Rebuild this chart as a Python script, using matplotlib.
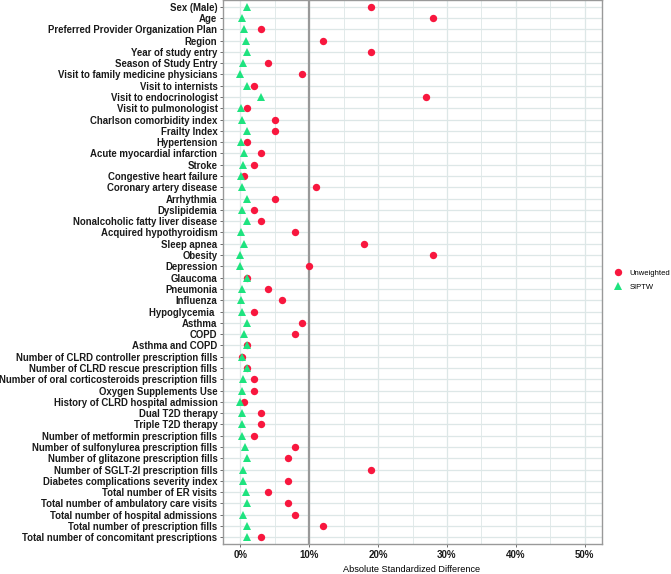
import matplotlib
matplotlib.use("Agg")
import matplotlib.pyplot as plt

# Covariables (de arriba hacia abajo)
covariables = [
    "Sex (Male)", "Age", "Preferred Provider Organization Plan", "Region",
    "Year of study entry", "Season of Study Entry",
    "Visit to family medicine physicians", "Visit to internists",
    "Visit to endocrinologist", "Visit to pulmonologist",
    "Charlson comorbidity index", "Frailty Index", "Hypertension",
    "Acute myocardial infarction", "Stroke", "Congestive heart failure",
    "Coronary artery disease", "Arrhythmia", "Dyslipidemia",
    "Nonalcoholic fatty liver disease", "Acquired hypothyroidism",
    "Sleep apnea", "Obesity", "Depression", "Glaucoma", "Pneumonia",
    "Influenza", "Hypoglycemia ", "Asthma", "COPD", "Asthma and COPD",
    "Number of CLRD controller prescription fills",
    "Number of CLRD rescue prescription fills",
    "Number of oral corticosteroids prescription fills",
    "Oxygen Supplements Use", "History of CLRD hospital admission",
    "Dual T2D therapy", "Triple T2D therapy",
    "Number of metformin prescription fills",
    "Number of sulfonylurea prescription fills",
    "Number of glitazone prescription fills",
    "Number of SGLT-2I prescription fills",
    "Diabetes complications severity index", "Total number of ER visits",
    "Total number of ambulatory care visits",
    "Total number of hospital admissions",
    "Total number of prescription fills",
    "Total number of concomitant prescriptions",
]

# Diferencia estandarizada absoluta (%)
sin_ponderar = [
    19, 28, 3, 12, 19, 4, 9, 2, 27, 1,
    5, 5, 1, 3, 2, 0.5, 11, 5, 2, 3,
    8, 18, 28, 10, 1, 4, 6, 2, 9, 8,
    1, 0.3, 1, 2, 2, 0.5, 3, 3, 2, 8,
    7, 19, 7, 4, 7, 8, 12, 3,
]
siptw = [
    1.0, 0.3, 0.6, 0.9, 1.0, 0.4, 0.0, 1.0, 3.0, 0.1,
    0.3, 1.0, 0.1, 0.6, 0.4, 0.1, 0.2, 1.0, 0.2, 1.0,
    0.1, 0.6, 0.0, 0.0, 1.0, 0.3, 0.1, 0.2, 1.0, 0.5,
    1.0, 0.2, 1.0, 0.4, 0.2, 0.0, 0.2, 0.2, 0.2, 0.7,
    1.0, 0.4, 0.4, 0.8, 1.0, 0.4, 1.0, 1.0,
]
ticks_x = [0, 10, 20, 30, 40, 50]

rojo = "#F8173E"
verde = "#1EE37F"
gris_grilla = "#DDE7E7"

plt.rcParams["font.family"] = ["Liberation Sans", "DejaVu Sans"]

fig = plt.figure(figsize=(6.71, 5.74), dpi=100)
ax = fig.add_axes([223 / 671, 30 / 574, 379 / 671, 544 / 574])

n = len(covariables)
pos = list(range(n))

# grilla
for y in pos:
    ax.axhline(y, color=gris_grilla, lw=0.9, zorder=0)
for x in range(0, 55, 5):
    ax.axvline(x, color=gris_grilla, lw=0.9 if x % 10 == 0 else 0.6, zorder=0)

ax.axvline(10, color="#999999", lw=1.6, zorder=1)

ax.plot(sin_ponderar, pos, "o", color=rojo, ms=5.3, mew=0, label="Unweighted", zorder=3)
ax.plot(siptw, pos, "^", color=verde, ms=6.4, mew=0, label="SIPTW", zorder=4)

ax.set_xlim(-2.5, 52.5)
ax.set_ylim(n - 0.4, -0.6)
ax.set_yticks(pos)
ax.set_yticklabels(covariables, fontsize=6.9, fontweight="bold", color="#1a1a1a")
ax.set_xticks(ticks_x)
ax.set_xticklabels([f"{t}%" for t in ticks_x], fontsize=7, fontweight="bold", color="#1a1a1a")
ax.tick_params(axis="both", length=2.5, width=0.6, color="#555555", pad=1.5)

fig.text(412 / 671, 5 / 574, "Absolute Standardized Difference", fontsize=6.6,
         ha="center", va="center")

for lado in ax.spines.values():
    lado.set_color("#999999")
    lado.set_linewidth(1.0)

ax.legend(loc="center left", bbox_to_anchor=(1.01, 0.485), frameon=False,
          fontsize=5.5, handletextpad=0.5, labelspacing=0.8, borderaxespad=0.2)

fig.savefig("out.png", dpi=100)
